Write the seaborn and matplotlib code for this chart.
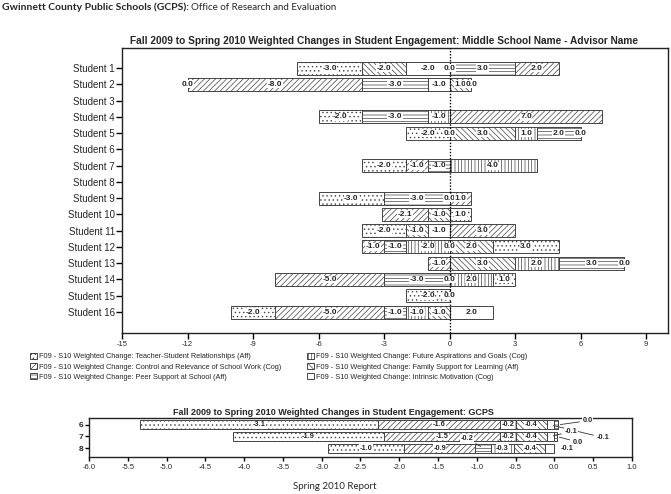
import numpy as np
import matplotlib
matplotlib.use("Agg")
import matplotlib.pyplot as plt
import seaborn as sns
from matplotlib.patches import Patch

# ---------------- data ----------------
students = ["Student 1", "Student 2", "Student 3", "Student 4", "Student 5", "Student 6",
            "Student 7", "Student 8", "Student 9", "Student 10", "Student 11", "Student 12",
            "Student 13", "Student 14", "Student 15", "Student 16"]
nan = np.nan
teacher   = [-3, -0.0, nan, -2, -2, nan, -2, nan, -3, 1, -2, 3, 0, 1, -2, -2]
control   = [2, -8, nan, 7, 0, nan, -1, nan, 1, -2.1, 3, -1, -1, -5, nan, -5]
peer      = [3, -3, nan, -3, 2, nan, -1, nan, -3, nan, nan, -1, 3, -3, nan, -1]
future    = [0, 0, nan, -1, 1, nan, 4, nan, nan, nan, nan, -2, 2, 2, nan, -1]
family    = [-2, 1, nan, nan, 3, nan, nan, nan, nan, -1, -1, 2, 3, nan, nan, -1]
intrinsic = [-2, -1, nan, nan, 0, nan, nan, nan, 0, nan, -1, 0, nan, 0, 0, 2]

grades      = ["6", "7", "8"]
g_teacher   = [-3.06, -1.94, -0.98]
g_control   = [-1.58, -1.50, -0.92]
g_peer      = [0.04, 0.03, -0.20]
g_future    = [-0.20, -0.20, -0.30]
g_family    = [-0.40, -0.40, -0.40]
g_intrinsic = [-0.10, -0.10, -0.12]

series_labels = [
    "F09 - S10 Weighted Change: Teacher-Student Relationships (Aff)",
    "F09 - S10 Weighted Change: Control and Relevance of School Work (Cog)",
    "F09 - S10 Weighted Change: Peer Support at School (Aff)",
    "F09 - S10 Weighted Change: Future Aspirations and Goals (Cog)",
    "F09 - S10 Weighted Change: Family Support for Learning (Aff)",
    "F09 - S10 Weighted Change: Intrinsic Motivation (Cog)",
]
main_title = "Fall 2009 to Spring 2010 Weighted Changes in Student Engagement: Middle School Name - Advisor Name"
gcps_title = "Fall 2009 to Spring 2010 Weighted Changes in Student Engagement: GCPS"
main_xticks = [-15, -12, -9, -6, -3, 0, 3, 6, 9]
gcps_xticks = [-6.0, -5.5, -5.0, -4.5, -4.0, -3.5, -3.0, -2.5, -2.0, -1.5, -1.0, -0.5, 0.0, 0.5, 1.0]

# ---------------- style ----------------
sns.set_style("white")
plt.rcParams["hatch.linewidth"] = 0.5
NARROW = ["Liberation Sans Narrow", "Liberation Sans", "DejaVu Sans"]
HEAD = ["Lato", "DejaVu Sans"]
plt.rcParams["font.family"] = NARROW
EDGE = "#444444"
hatches = ["....", "//////", "-----", "|||||", "\\\\\\\\\\\\", ""]
stack_order = [5, 4, 3, 2, 1, 0]

fig = plt.figure(figsize=(6.71, 4.94), dpi=100)
W, H = 671, 494


def ax_rect(x0, y0, x1, y1):
    return [x0 / W, 1 - y1 / H, (x1 - x0) / W, (y1 - y0) / H]


def draw_stack(ax, series, height, fs, callouts=None):
    n = len(series[0])
    y = np.arange(n)
    pos = np.zeros(n)
    neg = np.zeros(n)
    placed = {}
    for k in stack_order:
        vals = np.asarray(series[k], dtype=float)
        lefts = np.full(n, np.nan)
        for i, v in enumerate(vals):
            if np.isnan(v):
                continue
            if v > 0 or (v == 0 and not np.signbit(v)):
                lefts[i] = pos[i]
                pos[i] += v
            else:
                lefts[i] = neg[i]
                neg[i] += v
        m = ~np.isnan(vals)
        ax.barh(y[m], vals[m], left=lefts[m], height=height, color="white",
                hatch=hatches[k], edgecolor=EDGE, linewidth=0.7, zorder=2)
        for i in np.where(m)[0]:
            placed[(i, k)] = (lefts[i], vals[i])
    for (i, k), (left, v) in placed.items():
        txt = f"{v + 0:.1f}"
        cx = left + v / 2
        if callouts and (i, k) in callouts:
            dx, dy, line = callouts[(i, k)]
            ax.annotate(txt, xy=(left + v if v > 0 else cx, i), xytext=(dx, dy),
                        textcoords="offset points", fontsize=fs, fontweight="bold",
                        ha="left", va="center", zorder=5,
                        bbox=dict(boxstyle="square,pad=0.05", fc="white", ec="none"),
                        arrowprops=dict(arrowstyle="-", lw=0.6, color="#333333") if line else None)
        else:
            ax.text(cx, i, txt, ha="center", va="center", fontsize=fs, fontweight="bold",
                    zorder=4, bbox=dict(boxstyle="square,pad=0.05", fc="white", ec="none"))


# ---------------- main chart ----------------
ax = fig.add_axes(ax_rect(122, 48, 668, 333))
draw_stack(ax, [teacher, control, peer, future, family, intrinsic], 0.8, 6)
ax.axvline(0, color="black", lw=1, ls=(0, (1, 1.2)), zorder=3)
ax.set_xlim(-15, 10)
ax.set_ylim(16.29, -1.23)
ax.set_yticks(range(len(students)))
ax.set_yticklabels(students, fontsize=7)
ax.set_xticks(main_xticks)
ax.set_xticklabels([str(t) for t in main_xticks], fontsize=5.5)
ax.tick_params(axis="y", length=4, width=1, color="black", left=True, pad=1)
ax.tick_params(axis="x", length=4, width=1, color="black", bottom=True, pad=2)
for s in ax.spines.values():
    s.set_color("#222222")
    s.set_linewidth(1)
ax.set_title(main_title, fontsize=7.3, fontweight="bold", pad=3, x=0.48)

# legend
handles = [Patch(facecolor="white", edgecolor=EDGE, hatch=h, linewidth=0.7) for h in hatches]
fig.legend(handles, series_labels, loc="upper left", bbox_to_anchor=(26 / W, 1 - 349 / H),
           ncol=2, frameon=False, fontsize=5.3, handlelength=1.0, handleheight=1.0,
           handletextpad=0.25, labelspacing=0.3, columnspacing=3.5, borderpad=0)

# ---------------- GCPS chart ----------------
ax2 = fig.add_axes(ax_rect(89, 418, 632, 457))
callouts = {
    (0, 2): (18, 3, True), (0, 5): (33, -9, True),
    (1, 5): (10, 3.5, True), (1, 2): (11.5, -4, True),
    (2, 5): (8, 0, False), (2, 2): (-16, 7, True),
}
draw_stack(ax2, [g_teacher, g_control, g_peer, g_future, g_family, g_intrinsic], 0.78, 5.3,
           callouts=callouts)
ax2.set_xlim(-6, 1)
ax2.set_ylim(2.78, -0.6)
ax2.set_yticks(range(len(grades)))
ax2.set_yticklabels(grades, fontsize=6, fontweight="bold")
ax2.set_xticks(gcps_xticks)
ax2.set_xticklabels([f"{t:.1f}" for t in gcps_xticks], fontsize=5.5)
ax2.tick_params(axis="y", length=3, width=1, color="black", left=True, pad=1)
ax2.tick_params(axis="x", length=3, width=1, color="black", bottom=True, pad=2)
for s in ax2.spines.values():
    s.set_color("#222222")
    s.set_linewidth(1)
ax2.set_title(gcps_title, fontsize=6.5, fontweight="bold", pad=2, x=0.45)

# ---------------- header / footer ----------------
r = fig.canvas.get_renderer()
t1 = fig.text(2 / W, 1 - 7 / H, "Gwinnett County Public Schools (GCPS):", fontsize=7.5,
              fontweight="bold", family=HEAD, ha="left", va="center")
bb = t1.get_window_extent(r)
fig.text(bb.x1 / fig.bbox.width + 2 / W, 1 - 7 / H, "Office of Research and Evaluation",
         fontsize=7, family=HEAD, ha="left", va="center")
fig.text(335 / W, 1 - 486 / H, "Spring 2010 Report", fontsize=7, family=HEAD,
         ha="center", va="center")

fig.savefig("out.png", dpi=100)
